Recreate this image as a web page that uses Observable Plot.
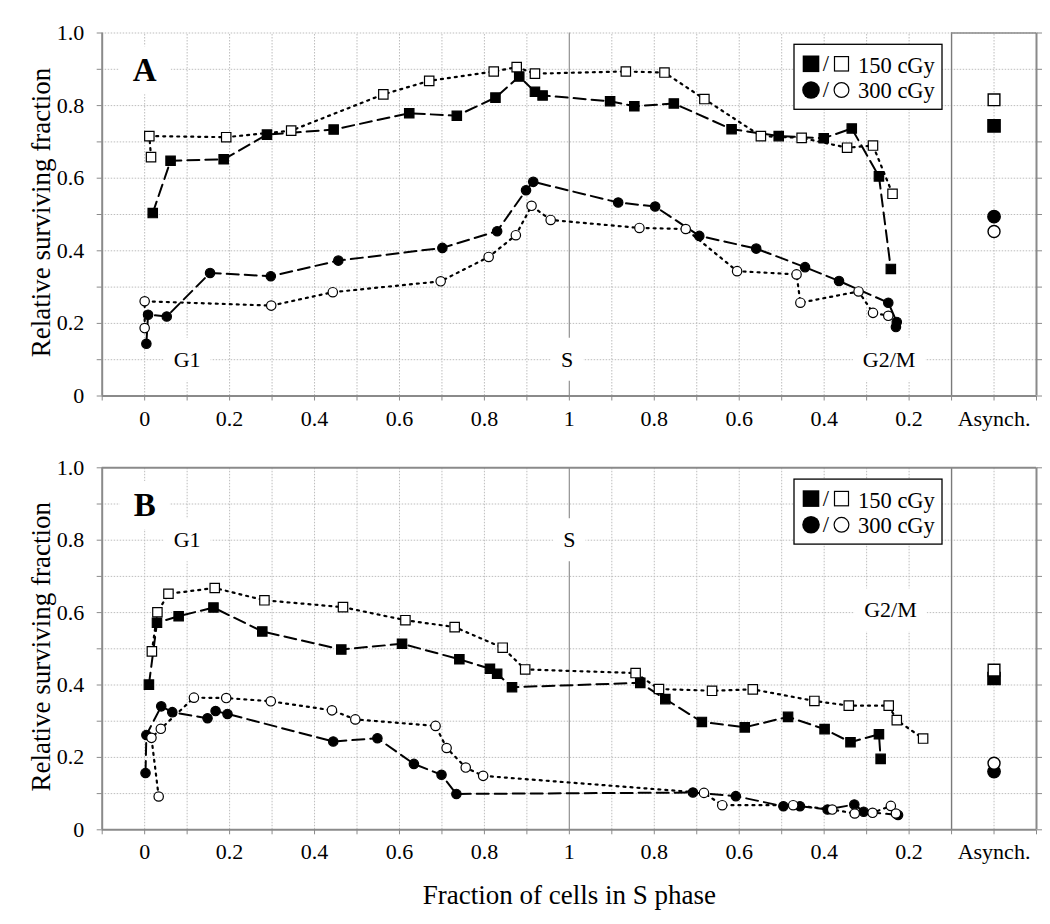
<!DOCTYPE html>
<html><head><meta charset="utf-8">
<script src="https://cdn.jsdelivr.net/npm/d3@7"></script>
<script src="https://cdn.jsdelivr.net/npm/@observablehq/plot@0.6"></script>
<style>
html,body{margin:0;padding:0;background:#fff;}
#chart{width:1050px;height:924px;position:relative;background:#fff;font-family:"Liberation Serif","Times New Roman",serif;}
#chart svg{display:block;}
</style></head><body><div id="chart"></div>
<script>
// ---- Axis ticks / labels (x position: 0..1 = rising fraction, 1..2 = falling fraction, 2 = Asynch.)
const xTickPos = [0, 0.2, 0.4, 0.6, 0.8, 1, 1.2, 1.4, 1.6, 1.8, 2];
const xTickLabels = ["0", "0.2", "0.4", "0.6", "0.8", "1", "0.8", "0.6", "0.4", "0.2", "Asynch."];
const yTickPos = [0, 0.2, 0.4, 0.6, 0.8, 1];
const yTickLabels = ["0", "0.2", "0.4", "0.6", "0.8", "1.0"];
const xTitle = "Fraction of cells in S phase";
const yTitle = "Relative surviving fraction";
const legendLabels = ["150 cGy", "300 cGy"];

// ---- Phase labels
const phaseLabels = ["G1", "S", "G2/M"];
const phasePosA = [0.1, 0.995, 1.753];
const phaseValA = [0.1, 0.1, 0.1];
const phasePosB = [0.1, 1.0, 1.756];
const phaseValB = [0.8, 0.8, 0.606];

// ---- Panel A
const aPos150Filled = [0.019, 0.061, 0.186, 0.288, 0.445, 0.623, 0.735, 0.826, 0.882, 0.919, 0.937, 1.096, 1.153, 1.246, 1.382, 1.493, 1.599, 1.665, 1.729, 1.757];
const aVal150Filled = [0.504, 0.648, 0.652, 0.720, 0.734, 0.779, 0.772, 0.822, 0.880, 0.838, 0.828, 0.812, 0.798, 0.806, 0.735, 0.716, 0.710, 0.737, 0.605, 0.350];
const aPos150Open = [0.015, 0.011, 0.192, 0.345, 0.562, 0.670, 0.822, 0.876, 0.919, 1.133, 1.224, 1.318, 1.451, 1.547, 1.654, 1.715, 1.761];
const aVal150Open = [0.658, 0.716, 0.713, 0.731, 0.831, 0.868, 0.894, 0.906, 0.888, 0.894, 0.891, 0.818, 0.716, 0.711, 0.684, 0.690, 0.557];
const aPos300Filled = [0.004, 0.008, 0.052, 0.154, 0.297, 0.456, 0.701, 0.830, 0.898, 0.915, 1.115, 1.202, 1.306, 1.440, 1.555, 1.635, 1.751, 1.771, 1.769];
const aVal300Filled = [0.144, 0.224, 0.219, 0.339, 0.330, 0.373, 0.408, 0.454, 0.567, 0.590, 0.533, 0.522, 0.441, 0.406, 0.355, 0.317, 0.257, 0.204, 0.190];
const aPos300Open = [0.000, 0.000, 0.298, 0.443, 0.697, 0.810, 0.874, 0.911, 0.956, 1.165, 1.274, 1.395, 1.535, 1.544, 1.681, 1.715, 1.751];
const aVal300Open = [0.187, 0.261, 0.249, 0.286, 0.316, 0.383, 0.443, 0.524, 0.485, 0.463, 0.460, 0.344, 0.335, 0.257, 0.288, 0.229, 0.221];
// Asynch. values: [150 filled, 150 open, 300 filled, 300 open]
const asynchA = [0.744, 0.816, 0.494, 0.453];

// ---- Panel B
const bPos150Filled = [0.010, 0.029, 0.080, 0.162, 0.277, 0.463, 0.606, 0.741, 0.813, 0.830, 0.865, 1.167, 1.226, 1.312, 1.413, 1.515, 1.601, 1.662, 1.729, 1.733];
const bVal150Filled = [0.401, 0.572, 0.590, 0.614, 0.548, 0.498, 0.514, 0.471, 0.445, 0.431, 0.394, 0.406, 0.361, 0.298, 0.283, 0.312, 0.278, 0.242, 0.264, 0.196];
const bPos150Open = [0.017, 0.030, 0.056, 0.165, 0.282, 0.467, 0.614, 0.730, 0.843, 0.896, 1.156, 1.211, 1.336, 1.432, 1.577, 1.658, 1.752, 1.771, 1.833];
const bVal150Open = [0.493, 0.601, 0.652, 0.668, 0.634, 0.615, 0.579, 0.560, 0.503, 0.443, 0.433, 0.389, 0.384, 0.388, 0.356, 0.343, 0.343, 0.303, 0.252];
const bPos300Filled = [0.002, 0.004, 0.039, 0.065, 0.148, 0.167, 0.195, 0.444, 0.548, 0.634, 0.699, 0.734, 1.291, 1.392, 1.504, 1.543, 1.608, 1.671, 1.693, 1.774];
const bVal300Filled = [0.157, 0.262, 0.341, 0.325, 0.308, 0.328, 0.320, 0.244, 0.253, 0.182, 0.152, 0.099, 0.103, 0.093, 0.065, 0.065, 0.056, 0.070, 0.050, 0.041];
const bPos300Open = [0.033, 0.016, 0.038, 0.116, 0.192, 0.297, 0.441, 0.496, 0.685, 0.711, 0.756, 0.797, 1.317, 1.360, 1.527, 1.619, 1.672, 1.714, 1.757, 1.769];
const bVal300Open = [0.092, 0.254, 0.279, 0.365, 0.364, 0.355, 0.330, 0.305, 0.287, 0.226, 0.172, 0.149, 0.102, 0.068, 0.068, 0.056, 0.045, 0.047, 0.066, 0.045];
const asynchB = [0.418, 0.441, 0.161, 0.184];
const asynchPos = 2;

// ---- build
const zip = (P, V) => P.map((p, i) => ({p, v: V[i]}));
const styles = [
  {symbol: "square", fill: "black", dash: "12,6", w: 2, r: 5.3, ra: 6.9},
  {symbol: "square", fill: "white", dash: "2,5", w: 2.2, r: 5.3, ra: 6.6},
  {symbol: "circle", fill: "black", dash: "12,6", w: 2, r: 4.7, ra: 6.2},
  {symbol: "circle", fill: "white", dash: "2,5", w: 2.2, r: 4.7, ra: 6.0}
];
const xLabelMap = new Map(xTickPos.map((p, i) => [Math.round(p * 10), xTickLabels[i]]));
const yLabelMap = new Map(yTickPos.map((p, i) => [Math.round(p * 10), yTickLabels[i]]));
const gridX = d3.range(0, 21).map(i => i / 10).filter(p => Math.abs(p - 1) > 1e-6 && Math.abs(p - 1.9) > 1e-6);
const tickX = d3.range(-1, 22).map(i => i / 10);
const gridY = d3.range(1, 11).map(i => i / 10);
const tickY = d3.range(0, 11).map(i => i / 10);
const frameColor = "#8a8a8a";
const gridColor = "#bdbdbd";
const serif = '"Liberation Serif","Times New Roman",serif';

function makePanel(cfg) {
  const {height, mt, mb, series, asynch, letter, phasePos, phaseVal, topFrame, withXTitle} = cfg;
  const phases = phaseLabels.map((label, i) => ({label, p: phasePos[i], v: phaseVal[i]}));
  const marks = [
    Plot.ruleX(gridX, {y1: 0, y2: 1, stroke: gridColor, strokeWidth: 1, strokeDasharray: "1.5,1.5"}),
    Plot.ruleY(topFrame ? gridY.filter(v => v < 0.95) : gridY, {x1: -0.1, x2: 2.1, stroke: gridColor, strokeWidth: 1, strokeDasharray: "1.5,1.5"}),
    Plot.ruleX([1], {y1: 0, y2: 1, stroke: "#9a9a9a", strokeWidth: 1.3}),
    Plot.ruleX([1.9], {y1: 0, y2: 1, stroke: "#7a7a7a", strokeWidth: 1.4}),
    Plot.ruleX([-0.1, 2.1], {y1: 0, y2: 1, stroke: frameColor, strokeWidth: 2}),
    Plot.ruleY([0], {x1: -0.1, x2: 2.1, stroke: frameColor, strokeWidth: 2}),
    topFrame ? Plot.ruleY([1], {x1: -0.1, x2: 2.1, stroke: frameColor, strokeWidth: 2})
             : Plot.ruleY([1], {x1: 1.9, x2: 2.1, stroke: frameColor, strokeWidth: 1.5}),
    Plot.text(phases, {x: "p", y: "v", text: "label", fontSize: 22, lineAnchor: "middle", textAnchor: "middle"}),
    Plot.text([letter], {x: 0, y: 0.896, text: d => d, fontSize: 33, fontWeight: "bold", lineAnchor: "middle", textAnchor: "middle"})
  ];
  series.forEach((s, k) => {
    const st = styles[k];
    marks.push(Plot.line(zip(s[0], s[1]), {x: "p", y: "v", stroke: "black", strokeWidth: st.w, strokeDasharray: st.dash}));
  });
  series.forEach((s, k) => {
    const st = styles[k];
    marks.push(Plot.dot(zip(s[0], s[1]), {x: "p", y: "v", symbol: st.symbol, r: st.r, fill: st.fill, stroke: "black", strokeWidth: 1.2}));
  });
  asynch.forEach((v, k) => {
    const st = styles[k];
    marks.push(Plot.dot([{p: asynchPos, v}], {x: "p", y: "v", symbol: st.symbol, r: st.ra, fill: st.fill, stroke: "black", strokeWidth: 1.4}));
  });
  marks.push(
    Plot.axisY(tickY, {anchor: "left", tickSize: 5, tickPadding: 13, stroke: frameColor, fontSize: 22, label: null,
      tickFormat: d => yLabelMap.get(Math.round(d * 10)) ?? ""}),
    Plot.axisY(tickY, {anchor: "right", tickSize: 5, stroke: frameColor, label: null, tickFormat: () => ""}),
    Plot.axisX(tickX, {anchor: "bottom", tickSize: 5, stroke: frameColor, label: null, tickFormat: () => ""}),
    Plot.axisX(xTickPos, {anchor: "bottom", tickSize: 0, tickPadding: 14, fontSize: 22, label: null,
      tickFormat: d => xLabelMap.get(Math.round(d * 10)) ?? ""}),
    Plot.text([yTitle], {frameAnchor: "left", dx: -61, dy: -2, rotate: -90, fontSize: 27, textAnchor: "middle", lineAnchor: "middle"})
  );
  if (withXTitle) marks.push(Plot.text([xTitle], {frameAnchor: "bottom", dy: 66, fontSize: 27, textAnchor: "middle", lineAnchor: "middle"}));

  const svg = Plot.plot({
    width: 1050, height, marginTop: mt, marginBottom: mb, marginLeft: 101.7, marginRight: 14,
    x: {type: "linear", domain: [-0.1, 2.1], axis: null},
    y: {type: "linear", domain: [0, 1], axis: null},
    style: {fontFamily: serif, fontSize: "22px", background: "white", color: "black", overflow: "visible"},
    marks
  });
  document.getElementById("chart").appendChild(svg);

  // white boxes behind phase labels and panel letter
  const ns = "http://www.w3.org/2000/svg";
  const boxed = new Set([...phaseLabels, letter]);
  svg.querySelectorAll("text").forEach(t => {
    if (!boxed.has(t.textContent)) return;
    const b = t.getBBox();
    const isLetter = t.textContent === letter;
    const px = isLetter ? 14 : 10, py = isLetter ? 6 : 9;
    const r = document.createElementNS(ns, "rect");
    r.setAttribute("x", b.x - px); r.setAttribute("y", b.y - py);
    r.setAttribute("width", b.width + 2 * px); r.setAttribute("height", b.height + 2 * py);
    r.setAttribute("fill", "white"); r.setAttribute("stroke", "none");
    if (t.getAttribute("transform")) r.setAttribute("transform", t.getAttribute("transform"));
    t.parentNode.insertBefore(r, t);
  });

  // legend
  const g = d3.select(svg).append("g").attr("transform", `translate(794,${mt + 11.8})`)
    .attr("font-family", serif).attr("font-size", 22.5).attr("text-anchor", "start");
  g.append("rect").attr("width", 148).attr("height", 65).attr("fill", "white").attr("stroke", "black").attr("stroke-width", 1.3);
  g.append("rect").attr("x", 17 - 8.3).attr("y", 19.5 - 8.3).attr("width", 16.6).attr("height", 16.6).attr("fill", "black");
  g.append("rect").attr("x", 47.5 - 7).attr("y", 19.5 - 7.2).attr("width", 14).attr("height", 14.4).attr("fill", "white").attr("stroke", "black").attr("stroke-width", 1.2);
  g.append("circle").attr("cx", 17).attr("cy", 45.7).attr("r", 8.8).attr("fill", "black");
  g.append("circle").attr("cx", 47.5).attr("cy", 45.7).attr("r", 7.4).attr("fill", "white").attr("stroke", "black").attr("stroke-width", 1.2);
  g.append("text").attr("x", 32).attr("y", 27).attr("text-anchor", "middle").text("/");
  g.append("text").attr("x", 32).attr("y", 53).attr("text-anchor", "middle").text("/");
  g.append("text").attr("x", 64).attr("y", 28.5).attr("text-anchor", "start").text(legendLabels[0]);
  g.append("text").attr("x", 64).attr("y", 54).attr("text-anchor", "start").text(legendLabels[1]);
  return svg;
}

makePanel({height: 440, mt: 32.5, mb: 44.5, letter: "A", phasePos: phasePosA, phaseVal: phaseValA, topFrame: false, withXTitle: false,
  series: [[aPos150Filled, aVal150Filled], [aPos150Open, aVal150Open], [aPos300Filled, aVal300Filled], [aPos300Open, aVal300Open]],
  asynch: asynchA});
makePanel({height: 484, mt: 27.3, mb: 94.7, letter: "B", phasePos: phasePosB, phaseVal: phaseValB, topFrame: true, withXTitle: true,
  series: [[bPos150Filled, bVal150Filled], [bPos150Open, bVal150Open], [bPos300Filled, bVal300Filled], [bPos300Open, bVal300Open]],
  asynch: asynchB});
</script></body></html>
